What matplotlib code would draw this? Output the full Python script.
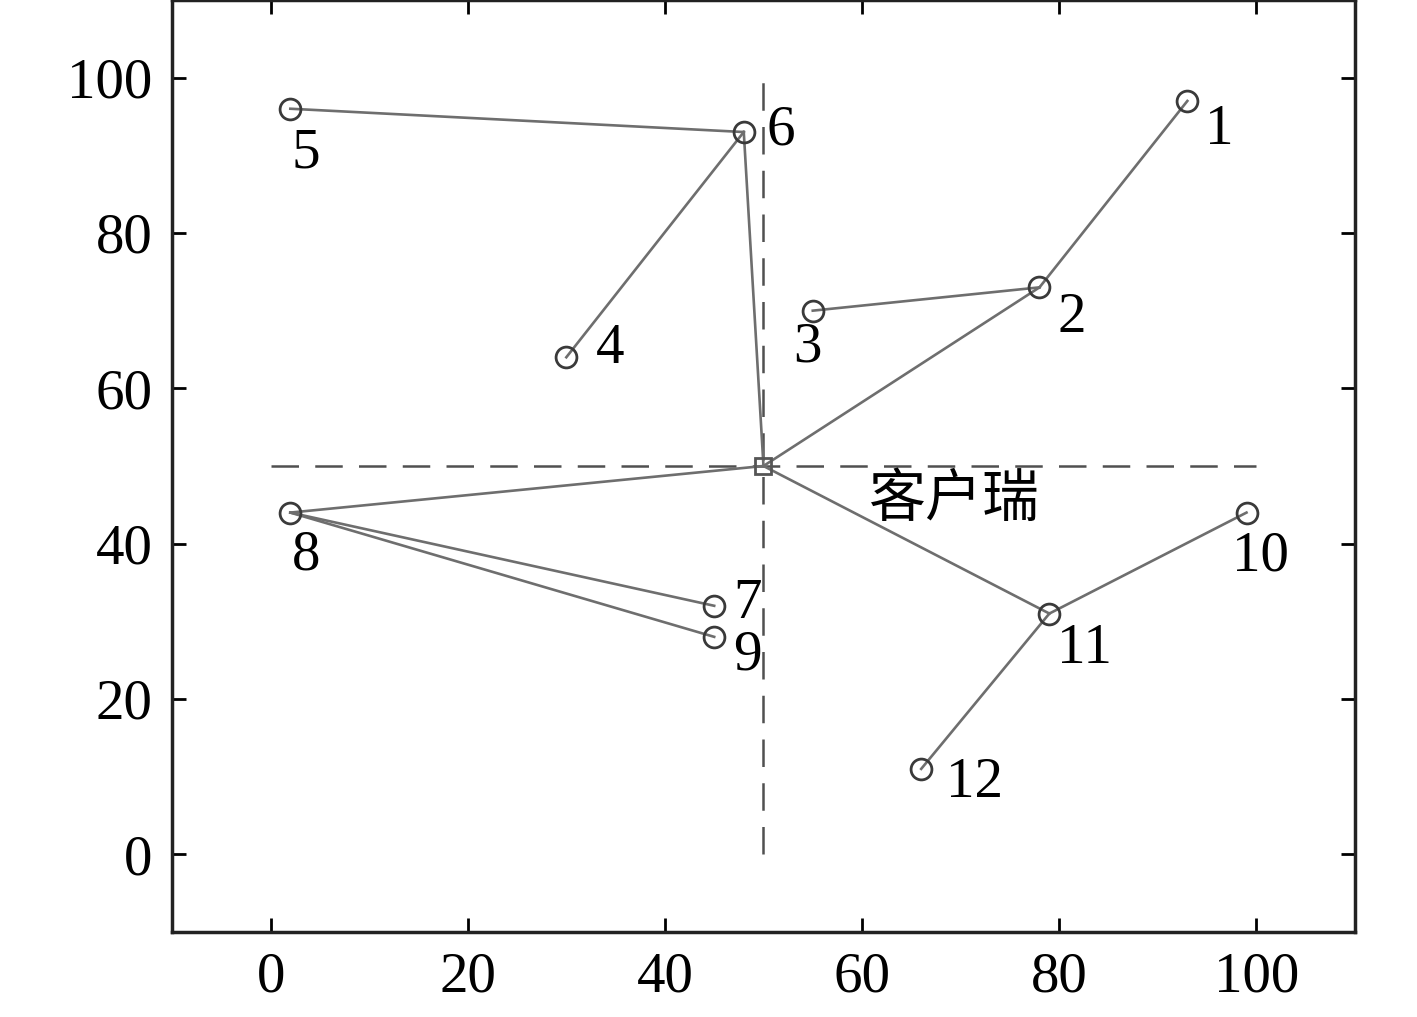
import matplotlib
matplotlib.use("Agg")
import matplotlib.pyplot as plt

plt.rcParams['font.family'] = ['Liberation Serif', 'Noto Sans CJK SC']

# node coordinates
node_ids = ['1', '2', '3', '4', '5', '6', '7', '8', '9', '10', '11', '12']
node_x = [93, 78, 55, 30, 2, 48, 45, 2, 45, 99, 79, 66]
node_y = [97, 73, 70, 64, 96, 93, 32, 44, 28, 44, 31, 11]

# label positions (text centres)
label_x = [96.2, 81.3, 54.5, 34.4, 3.6, 51.8, 48.4, 3.6, 48.4, 100.4, 82.6, 71.4]
label_y = [93.3, 69.0, 65.2, 65.0, 90.2, 93.2, 32.2, 38.5, 25.6, 38.3, 26.5, 9.2]

client_x, client_y = 50, 50
client_label = '客户瑞'

# edges as pairs of node ids, 'C' = client
edges = [('5', '6'), ('6', '4'), ('6', 'C'), ('C', '2'), ('2', '1'), ('2', '3'),
         ('C', '8'), ('8', '7'), ('8', '9'), ('C', '11'), ('11', '10'), ('11', '12')]

xticks = [0, 20, 40, 60, 80, 100]
yticks = [0, 20, 40, 60, 80, 100]


def pos(k):
    if k == 'C':
        return client_x, client_y
    i = node_ids.index(k)
    return node_x[i], node_y[i]


fig = plt.figure(figsize=(14.17, 10.17), dpi=100)
ax = fig.add_axes([0.1214, 0.0836, 0.8348, 0.9164])

# dashed cross through the client
dash = (0, (11, 6.5))
ax.plot([0, 100], [client_y, client_y], linestyle=dash, color='#505050', lw=1.8)
ax.plot([client_x, client_x], [0, 100], linestyle=dash, color='#505050', lw=1.8)

for a, b in edges:
    xa, ya = pos(a)
    xb, yb = pos(b)
    ax.plot([xa, xb], [ya, yb], color='#6e6e6e', lw=1.9)

ax.plot(node_x, node_y, 'o', ms=15, mfc='none', mec='#3a3a3a', mew=2.0, linestyle='none')
ax.plot([client_x], [client_y], 's', ms=12, mfc='none', mec='#555555', mew=2.0)

for i, t in enumerate(node_ids):
    ax.text(label_x[i], label_y[i], t, fontsize=41, ha='center', va='center')

ax.text(69.3, 45.6, client_label, fontsize=41, ha='center', va='center',
        family=['Noto Sans CJK SC', 'DejaVu Sans'], fontweight='light')

ax.set_xlim(-10, 110)
ax.set_ylim(-10, 110)
ax.set_xticks(xticks)
ax.set_yticks(yticks)
ax.tick_params(direction='in', length=10, width=2, labelsize=41, right=True, top=True, pad=14)
for s in ax.spines.values():
    s.set_linewidth(2.5)
    s.set_color('#222222')

fig.savefig('out.png', dpi=100)
